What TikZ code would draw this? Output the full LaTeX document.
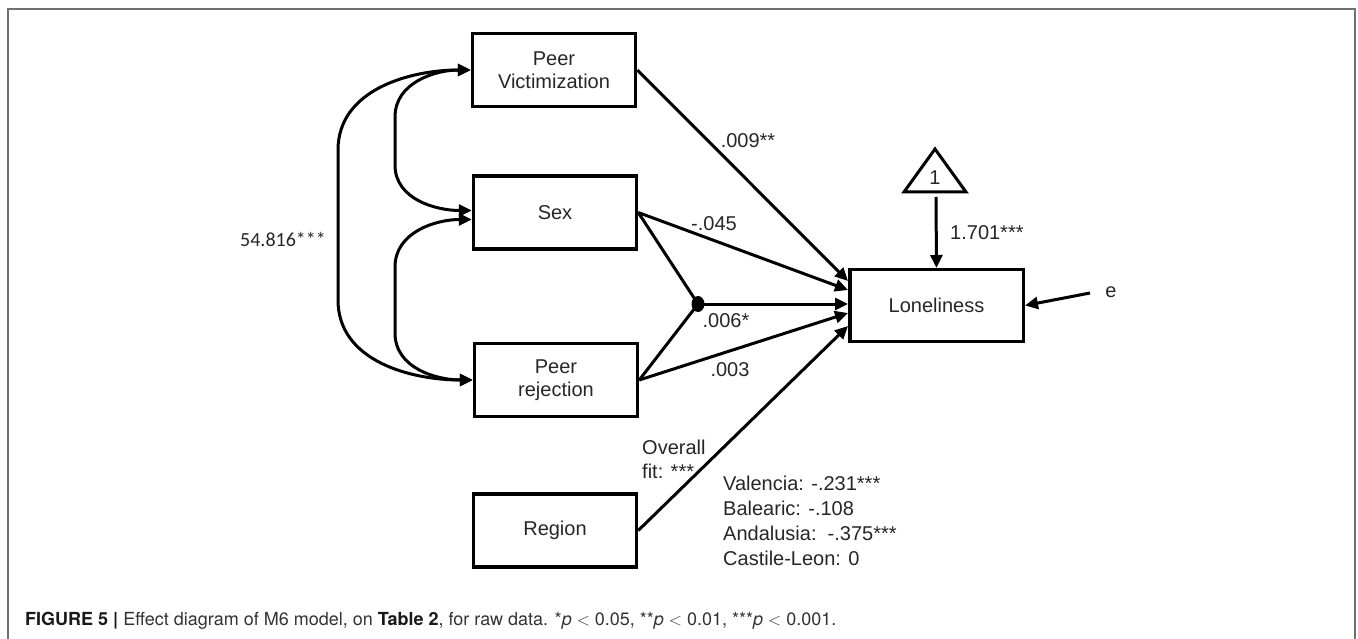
\documentclass[tikz,border=0pt]{standalone}
\usepackage{fontspec}
\setmainfont{Liberation Sans}
\newfontfamily\calib{Carlito}
\newfontfamily\capfont{TeX Gyre Heros}
\usetikzlibrary{arrows.meta,shapes.geometric}
\definecolor{txt}{HTML}{262626}
\definecolor{framec}{HTML}{707070}
\begin{document}
\begin{tikzpicture}[x=1pt,y=-1pt,
  box/.style={draw, line width=3.5pt, minimum width=163pt, minimum height=73pt, inner sep=0pt, align=center, font=\fontsize{20}{23}\selectfont, text=txt},
  lbl/.style={inner sep=0pt, font=\fontsize{20}{24}\selectfont, text=txt},
  arr/.style={line width=3pt, -{Triangle[length=13pt,width=12pt]}},
  biarr/.style={line width=3pt, {Triangle[length=13pt,width=12pt]}-{Triangle[length=13pt,width=12pt]}},
  plain/.style={line width=3pt}
]
\useasboundingbox (0,0) rectangle (1358,639);
\draw[framec, line width=1.5pt] (8,645) -- (8,9) -- (1355,9) -- (1355,645);

% boxes
\node[box] (pv) at (554,70) {Peer\\Victimization};
\node[box] (sex) at (555,212.5) {Sex};
\node[box] (pr) at (556,380) {Peer\\rejection};
\node[box] (reg) at (555,530.5) {Region};
\node[box, minimum width=173.5pt, minimum height=71.5pt] (lon) at (936.5,305.5) {Loneliness};

% moderation dot
\node[ellipse, fill=black, inner sep=0pt, minimum width=13pt, minimum height=16pt] (dot) at (698,304) {};

% intercept triangle
\node[lbl] (one) at (935,178) {1};
\draw[line width=3pt, line join=miter] (935,149) -- (966,192) -- (904,192) -- cycle;
\coordinate (tri) at (936,197);
\draw[arr] (tri) -- (lon.north);
\node[lbl, anchor=west] (l1701) at (950,233) {1.701***};

% error
\coordinate (eend) at (1090,293);
\node[lbl] (e) at (1111,292) {e};
\draw[arr] (eend) -- (lon.east);

% paths to loneliness
\draw[arr] (pv.east) -- ([yshift=24.5pt]lon.west);
\draw[arr] (sex.east) -- ([yshift=15.5pt]lon.west);
\draw[plain] (sex.east) -- (dot.center);
\draw[plain] (pr.east) -- (dot.center);
\draw[arr] (dot.center) -- ([yshift=1.5pt]lon.west);
\draw[arr] (pr.east) -- ([yshift=-7.5pt]lon.west);
\draw[arr] (reg.east) -- ([yshift=-20.5pt]lon.west);

% covariances
\draw[biarr] (pv.west) to[out=180,in=90] (338,150) -- (338,300) to[out=-90,in=180] (pr.west);
\draw[biarr] (pv.west) to[out=180,in=90] (395,117) -- (395,165) to[out=-90,in=180] ([yshift=2pt]sex.west);
\draw[biarr] ([yshift=-7pt]sex.west) to[out=180,in=90] (395,267) -- (395,333) to[out=-90,in=180] (pr.west);
\node[inner sep=0pt, font=\calib\fontsize{20}{24}\selectfont, text=txt] (cov) at (283,239) {54.816***};

% coefficient labels
\node[lbl] (c009) at (748,141) {.009**};
\node[lbl] (c045) at (714,224) {-.045};
\node[lbl] (c006) at (726,321) {.006*};
\node[lbl] (c003) at (730,370) {.003};
\node[lbl, anchor=west, align=left, font=\fontsize{20}{24}\selectfont] (fit) at (642,459.5) {Overall\\fit: ***};
\node[lbl, anchor=north west, align=left, font=\fontsize{20}{25}\selectfont] (regs) at (723,476) {Valencia: -.231***\\Balearic: -.108\\Andalusia:\ \ -.375***\\Castile-Leon: 0};

% caption
\node[anchor=west, inner sep=0pt, font=\capfont\fontsize{18}{20}\selectfont, text=black!80] (cap) at (25,621)
  {\textbf{\color{black!90}FIGURE 5 |} Effect diagram of M6 model, on \textbf{\color{black!90}Table 2}, for raw data. *\textit{p} $<$ 0.05, **\textit{p} $<$ 0.01, ***\textit{p} $<$ 0.001.};
\end{tikzpicture}
\end{document}
